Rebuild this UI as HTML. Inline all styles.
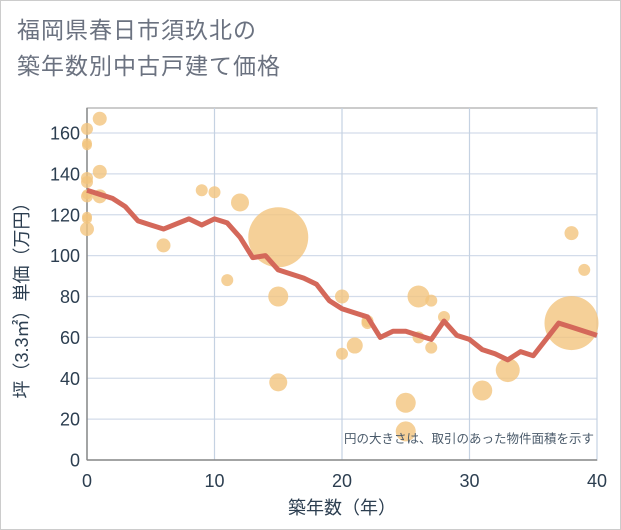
<!DOCTYPE html>
<html><head><meta charset="utf-8"><style>
body{margin:0;background:#fff;}
#wrap{position:relative;width:621px;height:530px;overflow:hidden;font-family:"Liberation Sans","Noto Sans CJK JP",sans-serif;}
#frame{position:absolute;left:0;top:0;width:619px;height:528px;border:1px solid #ccc;}
.title{position:absolute;left:17px;top:12px;font-size:23px;line-height:36px;color:#6b7280;letter-spacing:1px;}
</style></head><body>
<div id="wrap">
<div id="frame"></div>
<div class="title">福岡県春日市須玖北の<br>築年数別中古戸建て価格</div>
<svg id="svg" width="621" height="530" style="position:absolute;left:0;top:0"></svg>
</div>
<script>
const lineYears=[0,1,2,3,4,5,6,7,8,9,10,11,12,13,14,15,16,17,18,19,20,21,22,23,24,25,26,27,28,29,30,31,32,33,34,35,36,37,38,39,40];
const lineValues=[132,130,128,124,117,115,113,115.5,118,115,118,116,109,99,100,93,91,89,86,78,74,72,70,60,63,63,61,59,68,61,59,54,52,49,53,51,59,67,65,63,61];
const bubbleYears=[0,0,0,0,0,0,0,0,0,0,1,1,1,6,9,10,11,12,15,15,15,20,20,21,22,22,25,25,26,26,27,27,28,31,33,38,38,39];
const bubbleValues=[162,155,154,138,136,130,129,119,118,113,167,141,129,105,132,131,88,126,109,80,38,80,52,56,67,68,28,14,80,60,78,55,70,34,44,67,111,93];
const bubbleSizes=[6,5,5,6,6,5,6,5,5,7,7,7,7,7,6,6,6,9,30,10,9,7,6,8,6,6,10,10,11,6,6,6,6,10,12,27,7,6];
const xTicks=[0,10,20,30,40];
const yTicks=[0,20,40,60,80,100,120,140,160];
const NS="http://www.w3.org/2000/svg";
const svg=document.getElementById('svg');
const X0=87,X1=597,Y0=460,Y1=133;
const xs=v=>X0+(v/40)*(X1-X0);
const ys=v=>Y0-(v/160)*(Y0-Y1);
function mk(t,a){const e=document.createElementNS(NS,t);for(const k in a)e.setAttribute(k,a[k]);svg.appendChild(e);return e;}
let bg=mk('rect',{x:X0,y:108,width:X1-X0,height:Y0-108,fill:'#fff',stroke:'#999','stroke-width':1});


yTicks.forEach(t=>{
 const l=mk('line',{x1:X0,x2:X1,y1:ys(t),y2:ys(t),stroke:'#d3dcea','stroke-width':1.2});
 
 
 const tx=mk('text',{x:X0-7,y:ys(t)+6.5,'text-anchor':'end','font-size':18,fill:'#2c3e50'});
 tx.textContent=t;
 
 
});
xTicks.forEach(t=>{
 const l=mk('line',{x1:xs(t),x2:xs(t),y1:108,y2:Y0,stroke:'#c5d2e2','stroke-width':1.2});
 
 
 const tx=mk('text',{x:xs(t),y:Y0+27,'text-anchor':'middle','font-size':18,fill:'#2c3e50'});
 tx.textContent=t;
 
 
});
let ax=mk('line',{x1:X0,x2:X0,y1:108,y2:Y0,stroke:'#888','stroke-width':1.5});


let ax2=mk('line',{x1:X0,x2:X1,y1:Y0,y2:Y0,stroke:'#888','stroke-width':1.5});


bubbleYears.forEach((y,i)=>{
 const c=mk('circle',{cx:xs(y),cy:ys(bubbleValues[i]),r:bubbleSizes[i],fill:'#f3c47e','fill-opacity':0.8});
 
 
});
const pts=lineYears.map((y,i)=>xs(y)+','+ys(lineValues[i])).join(' ');
const pl=mk('polyline',{points:pts,fill:'none',stroke:'#d4685a','stroke-width':5,'stroke-linejoin':'round'});


const note=mk('text',{x:594,y:443,'text-anchor':'end','font-size':12.5,fill:'#4a5a6a'});
note.textContent='円の大きさは、取引のあった物件面積を示す';


const xt=mk('text',{x:(X0+X1)/2,y:514,'text-anchor':'middle','font-size':18,fill:'#2c3e50'});
xt.textContent='築年数（年）';


const yt=mk('text',{x:0,y:0,'text-anchor':'middle','font-size':18,fill:'#2c3e50',transform:'translate(28,296) rotate(-90)'});
yt.textContent='坪（3.3㎡）単価（万円）';


</script>
</body></html>
